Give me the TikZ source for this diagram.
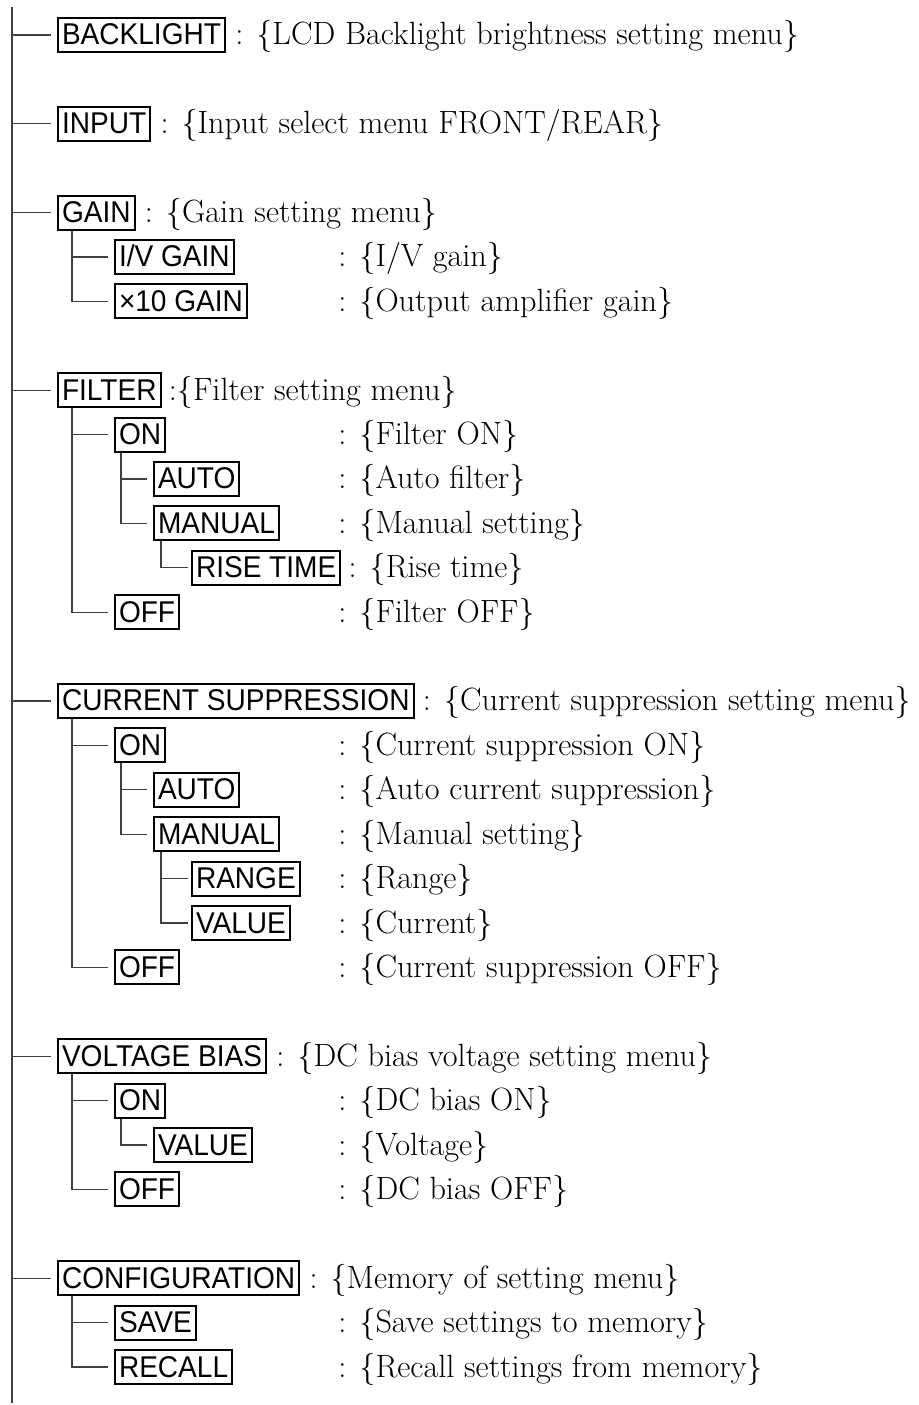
\documentclass[tikz,border=0pt]{standalone}
\usepackage{fontspec}
\newfontfamily\keyfont[FakeStretch=0.935]{Liberation Sans}
\usetikzlibrary{positioning}

\begin{document}
\begin{tikzpicture}[
  x=0.5pt, y=-22.2pt,
  key/.style={draw, line width=1pt, anchor=west, inner xsep=2pt, inner ysep=0pt,
              font=\fontsize{15}{18}\selectfont\keyfont,
              text height=11pt, text depth=1pt, minimum height=17pt},
  desc/.style={inner sep=0pt, font=\fontsize{16.1}{19}\selectfont},
  tree/.style={draw=black!75, line width=0.6pt},
  twig/.style={tree, shorten >=3pt}]

% x in px from the left edge, y in rows (44.4px apart)
\useasboundingbox (0,-0.788) rectangle (918,30.856);
\coordinate (top) at (12,-0.63);
\coordinate (bot) at (12,30.81);
\coordinate (col) at (338,0);

% top level
\node[key] (bl) at (57,0) {BACKLIGHT};
\node[desc, base right=4.5pt of bl] (bld) {: \{LCD Backlight brightness setting menu\}};
\node[key] (in) at (57,2) {INPUT};
\node[desc, base right=4.5pt of in] (ind) {: \{Input select menu FRONT/REAR\}};

% gain
\node[key] (gn) at (57,4) {GAIN};
\node[desc, base right=4.5pt of gn] (gnd) {: \{Gain setting menu\}};
\node[key] (gniv) at (114,5) {I/V GAIN};
\node[desc, anchor=base west] (gnivd) at (gniv.base -| col) {: \{I/V gain\}};
\node[key] (gnx) at (114,6) {×10 GAIN};
\node[desc, anchor=base west] (gnxd) at (gnx.base -| col) {: \{Output amplifier gain\}};

% filter
\node[key] (fl) at (57,8) {FILTER};
\node[desc, base right=3.5pt of fl] (fld) {:\{Filter setting menu\}};
\node[key] (flon) at (114,9) {ON};
\node[desc, anchor=base west] (flond) at (flon.base -| col) {: \{Filter ON\}};
\node[key] (flau) at (153,10) {AUTO};
\node[desc, anchor=base west] (flaud) at (flau.base -| col) {: \{Auto filter\}};
\node[key] (flma) at (153,11) {MANUAL};
\node[desc, anchor=base west] (flmad) at (flma.base -| col) {: \{Manual setting\}};
\node[key] (flri) at (191,12) {RISE TIME};
\node[desc, base right=3.5pt of flri] (flrid) {: \{Rise time\}};
\node[key] (flof) at (114,13) {OFF};
\node[desc, anchor=base west] (flofd) at (flof.base -| col) {: \{Filter OFF\}};

% current suppression
\node[key] (cs) at (57,15) {CURRENT SUPPRESSION};
\node[desc, base right=4pt of cs] (csd) {: \{Current suppression setting menu\}};
\node[key] (cson) at (114,16) {ON};
\node[desc, anchor=base west] (csond) at (cson.base -| col) {: \{Current suppression ON\}};
\node[key] (csau) at (153,17) {AUTO};
\node[desc, anchor=base west] (csaud) at (csau.base -| col) {: \{Auto current suppression\}};
\node[key] (csma) at (153,18) {MANUAL};
\node[desc, anchor=base west] (csmad) at (csma.base -| col) {: \{Manual setting\}};
\node[key] (csra) at (191,19) {RANGE};
\node[desc, anchor=base west] (csrad) at (csra.base -| col) {: \{Range\}};
\node[key] (csva) at (191,20) {VALUE};
\node[desc, anchor=base west] (csvad) at (csva.base -| col) {: \{Current\}};
\node[key] (csof) at (114,21) {OFF};
\node[desc, anchor=base west] (csofd) at (csof.base -| col) {: \{Current suppression OFF\}};

% voltage bias
\node[key] (vb) at (57,23) {VOLTAGE BIAS};
\node[desc, base right=4.5pt of vb] (vbd) {: \{DC bias voltage setting menu\}};
\node[key] (vbon) at (114,24) {ON};
\node[desc, anchor=base west] (vbond) at (vbon.base -| col) {: \{DC bias ON\}};
\node[key] (vbva) at (153,25) {VALUE};
\node[desc, anchor=base west] (vbvad) at (vbva.base -| col) {: \{Voltage\}};
\node[key] (vbof) at (114,26) {OFF};
\node[desc, anchor=base west] (vbofd) at (vbof.base -| col) {: \{DC bias OFF\}};

% configuration
\node[key] (cf) at (57,28) {CONFIGURATION};
\node[desc, base right=4.5pt of cf] (cfd) {: \{Memory of setting menu\}};
\node[key] (cfsa) at (114,29) {SAVE};
\node[desc, anchor=base west] (cfsad) at (cfsa.base -| col) {: \{Save settings to memory\}};
\node[key] (cfre) at (114,30) {RECALL};
\node[desc, anchor=base west] (cfred) at (cfre.base -| col) {: \{Recall settings from memory\}};

% tree lines
\draw[tree] (top) -- (bot);
\foreach \n in {bl,in,gn,fl,cs,vb,cf}
  \draw[twig] (\n.west -| top) -- (\n.west);
\foreach \p/\c in {gn/gniv,gn/gnx,fl/flon,fl/flof,cs/cson,cs/csof,vb/vbon,vb/vbof,cf/cfsa,cf/cfre}
  \draw[twig] ([xshift=7.5pt]\p.south west) |- (\c.west);
\foreach \p/\c in {flon/flau,flon/flma,cson/csau,cson/csma,vbon/vbva}
  \draw[twig] ([xshift=3.5pt]\p.south west) |- (\c.west);
\foreach \p/\c in {flma/flri,csma/csra,csma/csva}
  \draw[twig, shorten >=1.5pt] ([xshift=4pt]\p.south west) |- (\c.west);
\end{tikzpicture}
\end{document}
